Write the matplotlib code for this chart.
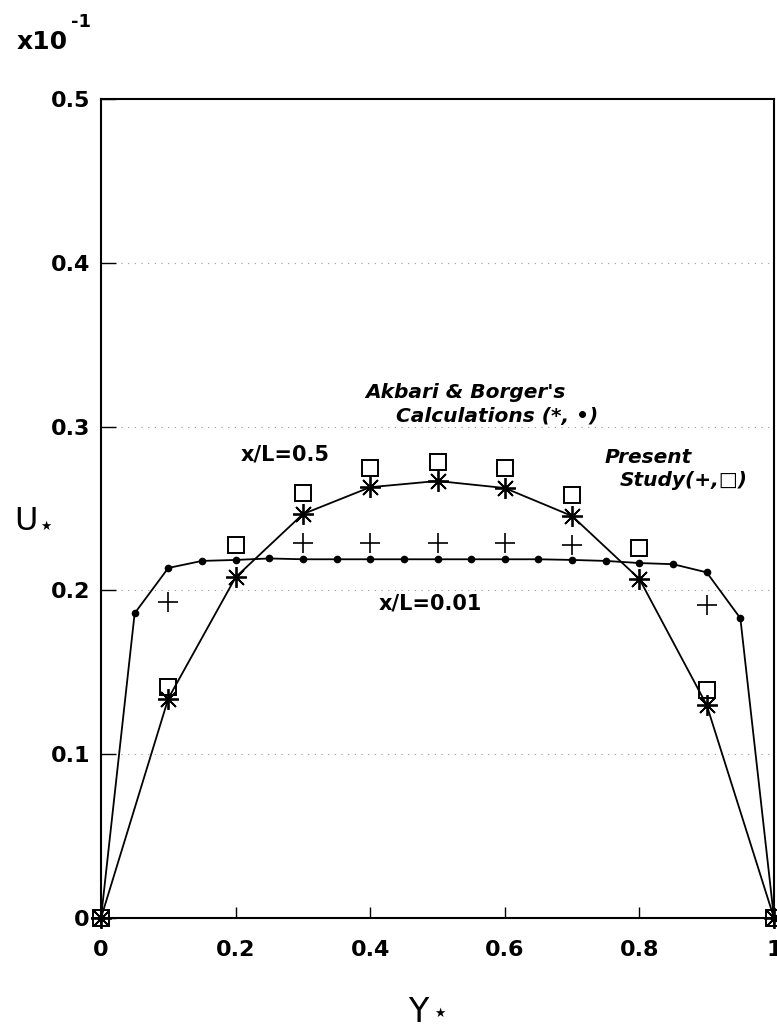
import matplotlib
matplotlib.use("Agg")
import matplotlib.pyplot as plt

plt.rcParams['font.family'] = ['DejaVu Sans']

# Akbari & Borger, x/L = 0.01 (dots)
x_ab01 = [0.0, 0.05, 0.1, 0.15, 0.2, 0.25, 0.3, 0.35, 0.4, 0.45, 0.5,
          0.55, 0.6, 0.65, 0.7, 0.75, 0.8, 0.85, 0.9, 0.95, 1.0]
u_ab01 = [0.0, 0.186, 0.2137, 0.218, 0.2186, 0.2195, 0.219, 0.219, 0.219, 0.219, 0.219,
          0.219, 0.219, 0.219, 0.2186, 0.218, 0.2167, 0.216, 0.211, 0.183, 0.0]

# Akbari & Borger, x/L = 0.5 (asterisks)
x_ab05 = [0.0, 0.1, 0.2, 0.3, 0.4, 0.5, 0.6, 0.7, 0.8, 0.9, 1.0]
u_ab05 = [0.0, 0.134, 0.208, 0.2466, 0.263, 0.2668, 0.2625, 0.2454, 0.207, 0.130, 0.0]

# present study, x/L = 0.5 (squares)
x_ps05 = [0.0, 0.1, 0.2, 0.3, 0.4, 0.5, 0.6, 0.7, 0.8, 0.9, 1.0]
u_ps05 = [0.0, 0.141, 0.2277, 0.2595, 0.2747, 0.2784, 0.2747, 0.258, 0.226, 0.139, 0.0]

# present study, x/L = 0.01 (plus)
x_ps01 = [0.0, 0.1, 0.3, 0.4, 0.5, 0.6, 0.7, 0.9, 1.0]
u_ps01 = [0.0, 0.193, 0.229, 0.229, 0.229, 0.229, 0.228, 0.191, 0.0]

xticks = [0, 0.2, 0.4, 0.6, 0.8, 1.0]
xticklabels = ['0', '0.2', '0.4', '0.6', '0.8', '1']
yticks = [0, 0.1, 0.2, 0.3, 0.4, 0.5]
yticklabels = ['0', '0.1', '0.2', '0.3', '0.4', '0.5']

fig = plt.figure(figsize=(7.77, 10.29), dpi=100)
ax = fig.add_axes([101 / 777, 1 - 918 / 1029, (774 - 101) / 777, (918 - 99) / 1029])

# faint dotted grid
for yv in yticks[1:-1]:
    ax.axhline(yv, color='0.6', lw=0.8, ls=(0, (1, 5)), zorder=0)

ax.plot(x_ab01, u_ab01, color='k', lw=1.3, marker='o', ms=4.5, zorder=3, clip_on=False)
ax.plot(x_ab05, u_ab05, color='k', lw=1.3, marker=(8, 2, 0), ms=15, mew=1.3, zorder=3,
        clip_on=False)
ax.plot(x_ps05, u_ps05, ls='none', marker='s', ms=12, mfc='none', mec='k', mew=1.4,
        zorder=4, clip_on=False)
ax.plot(x_ps01, u_ps01, ls='none', marker='+', ms=14, mec='k', mew=1.2, zorder=4,
        clip_on=False)

ax.set_xlim(0, 1)
ax.set_ylim(0, 0.5)
ax.set_xticks(xticks)
ax.set_xticklabels(xticklabels)
ax.set_yticks(yticks)
ax.set_yticklabels(yticklabels)
ax.tick_params(axis='both', direction='in', width=1, labelsize=16)
ax.tick_params(axis='x', length=8, pad=16)
ax.tick_params(axis='y', length=11, pad=8)
for lab in ax.get_xticklabels() + ax.get_yticklabels():
    lab.set_fontweight('bold')
for sp in ax.spines.values():
    sp.set_linewidth(1.5)

bi = dict(fontsize=14.5, fontweight='bold', style='italic', va='center')
ax.text(0.393, 0.321, "Akbari & Borger's", **bi)
ax.text(0.438, 0.306, "Calculations (*, \u2022)", **bi)
ax.text(0.748, 0.281, "Present", **bi)
ax.text(0.770, 0.267, "Study(+,\u25a1)", **bi)
ax.text(0.207, 0.283, "x/L=0.5", fontsize=15, fontweight='bold', va='center')
ax.text(0.413, 0.192, "x/L=0.01", fontsize=15, fontweight='bold', va='center')

# multiplier and axis labels
fig.text(17 / 777, 1 - 42 / 1029, "x10", fontsize=18, fontweight='bold', va='center')
fig.text(71 / 777, 1 - 22 / 1029, "-1", fontsize=13, fontweight='bold', va='center')
fig.text(14 / 777, 1 - 522 / 1029, "U", fontsize=23, va='center')
fig.text(40 / 777, 1 - 526 / 1029, "\u2605", fontsize=9, va='center')
fig.text(408 / 777, 1 - 1012 / 1029, "Y", fontsize=24, va='center')
fig.text(434 / 777, 1 - 1013 / 1029, "\u2605", fontsize=9, va='center')

fig.savefig("out.png", dpi=100)
